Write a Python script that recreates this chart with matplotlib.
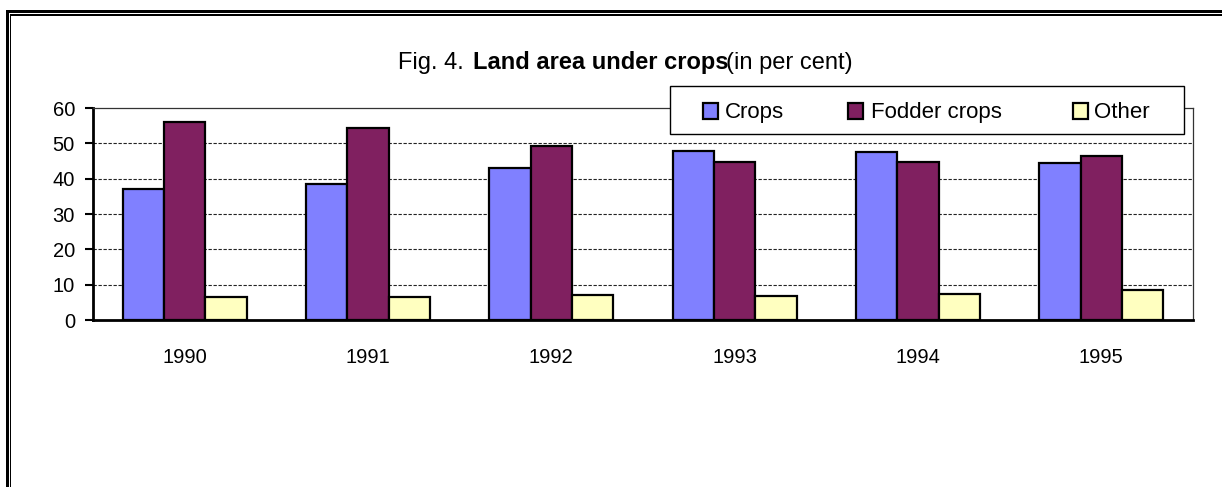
import matplotlib
matplotlib.use("Agg")
import matplotlib.pyplot as plt
from matplotlib.patches import Rectangle
import numpy as np

years = ["1990", "1991", "1992", "1993", "1994", "1995"]
series_names = ["Crops", "Fodder crops", "Other"]
crops = [37.0, 38.5, 43.1, 47.8, 47.5, 44.4]
fodder = [55.9, 54.4, 49.2, 44.8, 44.7, 46.3]
other = [6.4, 6.4, 7.2, 6.9, 7.5, 8.5]
yticks = [0, 10, 20, 30, 40, 50, 60]

colors = ["#8080FF", "#802060", "#FFFFC0"]

W, H = 1222, 487
plt.rcParams['font.family'] = ['Liberation Sans', 'DejaVu Sans']
fig = plt.figure(figsize=(W / 100, H / 100), dpi=100)

def fx(px):
    return px / W

def fy(py):
    return 1 - py / H

ax = fig.add_axes([fx(93), fy(320), fx(1193) - fx(93), fy(108) - fy(320)])

x = np.arange(len(years))
bw = 0.225
for i, (vals, c) in enumerate(zip([crops, fodder, other], colors)):
    ax.bar(x + (i - 1) * bw, vals, width=bw, color=c, edgecolor="black",
           linewidth=1.6, zorder=3)

ax.set_xlim(-0.5, len(years) - 0.5)
ax.set_ylim(0, 60)
ax.set_yticks(yticks)
ax.set_yticklabels([str(t) for t in yticks], fontsize=14.5)
ax.set_xticks(x)
ax.set_xticklabels(years, fontsize=14.5)
ax.tick_params(axis='x', length=0, pad=20)
ax.tick_params(axis='y', length=6, width=1.5, pad=7, direction='out')

for t in yticks[1:-1]:
    ax.axhline(t, color="#222222", linewidth=0.8, linestyle=(0, (3, 1.5)), zorder=1)

for s in ["left", "bottom"]:
    ax.spines[s].set_linewidth(2.0)
for s in ["top", "right"]:
    ax.spines[s].set_linewidth(0.9)
    ax.spines[s].set_color("#333333")

# Legend (drawn in figure pixel positions)
fig.add_artist(Rectangle((fx(670), fy(134)), fx(1184) - fx(670), fy(86) - fy(134),
                         transform=fig.transFigure, facecolor="white",
                         edgecolor="black", linewidth=1.0, zorder=5))
sq_x = [703, 848, 1073]
tx_x = [725, 871, 1094]
for name, c, sx, tx in zip(series_names, colors, sq_x, tx_x):
    fig.add_artist(Rectangle((fx(sx), fy(118.5)), fx(15), fy(103.5) - fy(118.5),
                             transform=fig.transFigure, facecolor=c,
                             edgecolor="black", linewidth=1.6, zorder=6))
    fig.text(fx(tx), fy(118), name, fontsize=16, ha="left", va="baseline",
             zorder=6)

# Title in three parts
fs_t = 17
fig.text(fx(398), fy(63), "Fig. 4.", fontsize=fs_t, ha="left", va="center")
fig.text(fx(473), fy(63), "Land area under crops", fontsize=fs_t,
         fontweight="bold", ha="left", va="center")
fig.text(fx(853), fy(63), "(in per cent)", fontsize=fs_t, ha="right", va="center")

# Double frame (left and top)
def prect(x0, y0, x1, y1):
    fig.add_artist(Rectangle((fx(x0), fy(y1)), fx(x1) - fx(x0), fy(y0) - fy(y1),
                             transform=fig.transFigure, facecolor="black",
                             edgecolor="none"))

prect(6, 10, 9, H)
prect(6, 10, W, 13)
prect(10, 14, 11.5, H)
prect(10, 14, W, 15.5)

fig.savefig("out.png", dpi=100)
